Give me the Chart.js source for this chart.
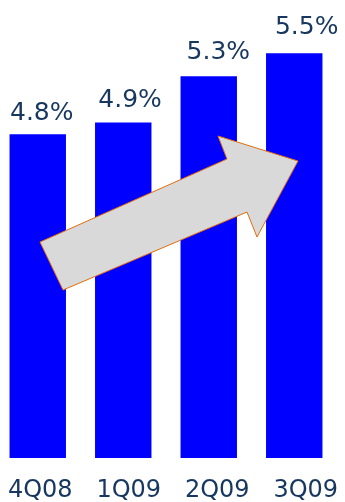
<!DOCTYPE html>
<html>
<head>
<meta charset="utf-8">
<script src="https://cdn.jsdelivr.net/npm/chart.js@4"></script>
<style>
  html, body { margin: 0; padding: 0; background: #fff; overflow: hidden; }
  #wrap { position: absolute; left: -5px; top: 0; width: 342px; height: 502px; }
</style>
</head>
<body>
<div id="wrap"><canvas id="chart"></canvas></div>
<script>
const quarters = ["4Q08", "1Q09", "2Q09", "3Q09"];
const rates = [4.8, 4.9, 5.3, 5.5];
const rateLabels = ["4.8%", "4.9%", "5.3%", "5.5%"];

const textColor = "#17375E";
const fontFamily = "DejaVu Sans";

// value labels above the bars and quarter labels under the axis
const labelsPlugin = {
  id: "labelsPlugin",
  afterDatasetsDraw(chart) {
    const ctx = chart.ctx;
    const bars = chart.getDatasetMeta(0).data;
    const xScale = chart.scales.x;
    ctx.save();
    ctx.fillStyle = textColor;
    ctx.textAlign = "center";
    ctx.textBaseline = "alphabetic";
    ctx.font = "25px " + fontFamily;
    bars.forEach((bar, i) => {
      ctx.fillText(rateLabels[i], bar.x + 4 + i * 2.8, bar.y - 14 - i * 1.8);
    });
    ctx.font = "24px " + fontFamily;
    quarters.forEach((q, i) => {
      ctx.fillText(q, xScale.getPixelForTick(i) + 2.5 + i * 3, chart.chartArea.bottom + 39);
    });
    ctx.restore();
  }
};

// grey trend arrow drawn over the bars
const trendArrow = {
  id: "trendArrow",
  afterDatasetsDraw(chart) {
    const ctx = chart.ctx;
    const pts = [[63, 290], [40, 242], [227, 159], [218, 136], [298, 161], [257, 237], [247, 212]];
    ctx.save();
    ctx.translate(5, 0);
    ctx.beginPath();
    pts.forEach((p, i) => (i ? ctx.lineTo(p[0], p[1]) : ctx.moveTo(p[0], p[1])));
    ctx.closePath();
    ctx.fillStyle = "#D9D9D9";
    ctx.fill();
    ctx.strokeStyle = "#E46C0A";
    ctx.lineWidth = 1;
    ctx.stroke();
    ctx.restore();
  }
};

new Chart(document.getElementById("chart"), {
  type: "bar",
  data: {
    labels: quarters,
    datasets: [{
      data: rates,
      backgroundColor: "#0000FF",
      borderWidth: 0,
      barPercentage: 0.66,
      categoryPercentage: 1
    }]
  },
  options: {
    responsive: true,
    maintainAspectRatio: false,
    animation: false,
    layout: { padding: { top: 0, left: 0, right: 0, bottom: 44 } },
    plugins: { legend: { display: false }, tooltip: { enabled: false } },
    scales: {
      x: {
        grid: { display: false, drawTicks: false },
        border: { display: false },
        ticks: { display: false }
      },
      y: { display: false, min: 2, max: 5.96 }
    }
  },
  plugins: [labelsPlugin, trendArrow]
});
</script>
</body>
</html>
